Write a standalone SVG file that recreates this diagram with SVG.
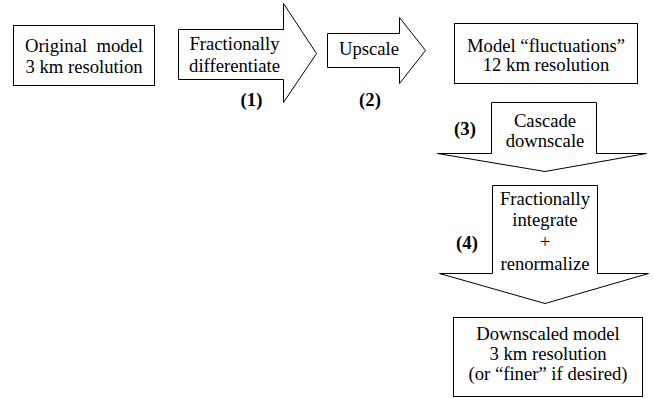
<svg xmlns="http://www.w3.org/2000/svg" width="653" height="398" viewBox="0 0 653 398">
<style>
.s{fill:#fff;stroke:#000;stroke-width:1}
text{font-family:'Liberation Serif','DejaVu Serif',serif;font-size:18.67px;fill:#000;text-anchor:middle}
.b{font-weight:bold}
</style>
<rect width="653" height="398" fill="#fff"/>
<g id="connectors">
<g id="arrow1">
<path class="s" d="M178.5,29.5 H283.5 V3.5 L316.5,53.5 L283.5,102.5 V79.5 H178.5 Z"/>
<text x="234.5" y="50">Fractionally</text>
<text x="234.5" y="72">differentiate</text>
</g>
<g id="arrow2">
<path class="s" d="M327.5,33.5 H399.5 V17.5 L425.5,50.5 L399.5,83.5 V67.5 H327.5 Z"/>
<text x="369" y="55">Upscale</text>
</g>
<g id="arrow3">
<path class="s" d="M491.5,102.5 H596.5 V153.5 H646.5 L545,171.5 L437.5,153.5 H491.5 Z"/>
<text x="545" y="127">Cascade</text>
<text x="545" y="147">downscale</text>
</g>
<g id="arrow4">
<path class="s" d="M492.5,185.5 H597.5 V273.5 H648.5 L545,303.5 L439.5,273.5 H492.5 Z"/>
<text x="545" y="205">Fractionally</text>
<text x="545" y="226">integrate</text>
<text x="545" y="248">+</text>
<text x="545" y="270">renormalize</text>
</g>
</g>
<g id="labels">
<text class="b" x="251.5" y="106">(1)</text>
<text class="b" x="370" y="106">(2)</text>
<text class="b" x="465" y="135">(3)</text>
<text class="b" x="467" y="249">(4)</text>
</g>
<g id="node-original">
<rect class="s" x="13.5" y="25.5" width="141" height="60"/>
<text x="84" y="52" xml:space="preserve">Original  model</text>
<text x="84" y="73">3 km resolution</text>
</g>
<g id="node-fluctuations">
<rect class="s" x="454.5" y="23.5" width="183" height="60"/>
<text x="546" y="52">Model “fluctuations”</text>
<text x="546" y="71">12 km resolution</text>
</g>
<g id="node-downscaled">
<rect class="s" x="453.5" y="317.5" width="189" height="79"/>
<text x="548" y="340">Downscaled model</text>
<text x="548" y="360">3 km resolution</text>
<text x="548" y="380">(or “finer” if desired)</text>
</g>
</svg>
